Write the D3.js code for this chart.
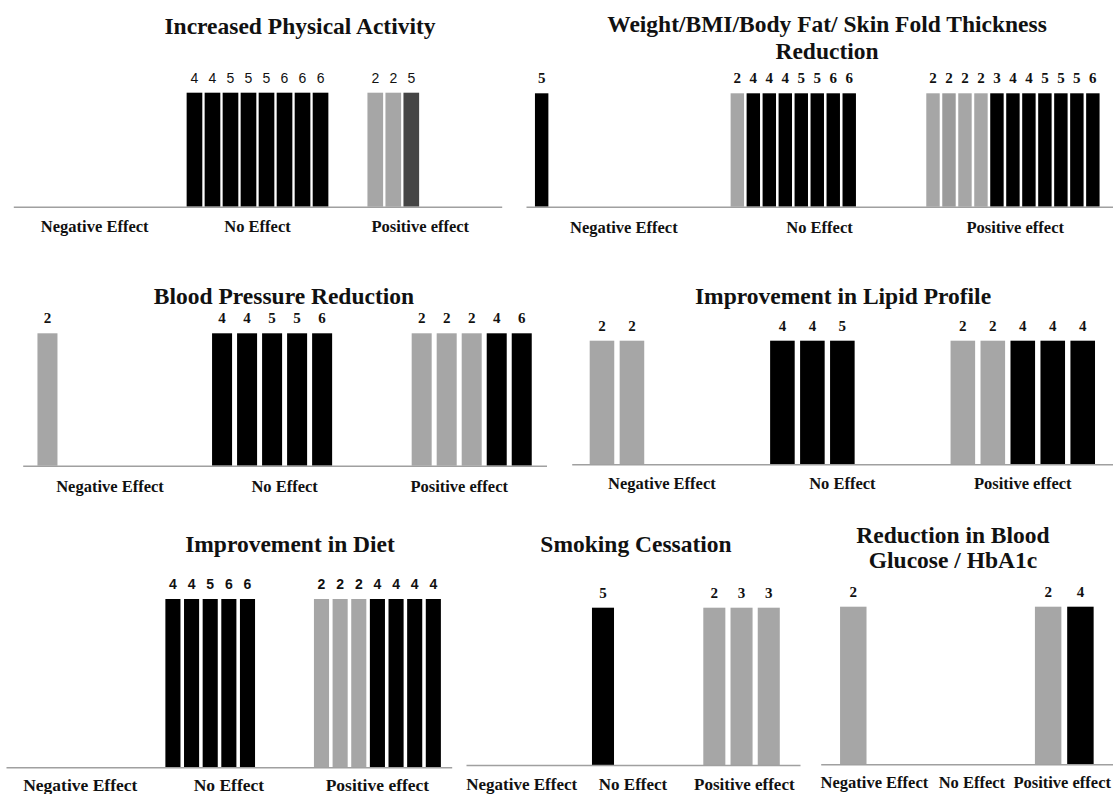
<!DOCTYPE html>
<html>
<head>
<meta charset="utf-8">
<script src="https://cdn.jsdelivr.net/npm/d3@7"></script>
<style>
  body { margin: 0; background: #fff; }
  svg { display: block; }
</style>
</head>
<body>
<div id="chart-area"></div>
<script>
// effect categories on every x axis
var categories = ["Negative Effect", "No Effect", "Positive effect"];

// panel titles (one entry per line)
var physTitle = ["Increased Physical Activity"];
var weightTitle = ["Weight/BMI/Body Fat/ Skin Fold Thickness", "Reduction"];
var bpTitle = ["Blood Pressure Reduction"];
var lipidTitle = ["Improvement in Lipid Profile"];
var dietTitle = ["Improvement in Diet"];
var smokeTitle = ["Smoking Cessation"];
var glucoseTitle = ["Reduction in Blood", "Glucose / HbA1c"];

// bar labels per category (each bar = one study, label = its score)
var physLabels = [[], [4, 4, 5, 5, 5, 6, 6, 6], [2, 2, 5]];
var weightLabels = [[5], [2, 4, 4, 4, 5, 5, 6, 6], [2, 2, 2, 2, 3, 4, 4, 5, 5, 5, 6]];
var bpLabels = [[2], [4, 4, 5, 5, 6], [2, 2, 2, 4, 6]];
var lipidLabels = [[2, 2], [4, 4, 5], [2, 2, 4, 4, 4]];
var dietLabels = [[], [4, 4, 5, 6, 6], [2, 2, 2, 4, 4, 4, 4]];
var smokeLabels = [[], [5], [2, 3, 3]];
var glucoseLabels = [[2], [], [2, 4]];

// study group of each bar (G, G2, D, K)
var physGroups = [[], ["K","K","K","K","K","K","K","K"], ["G","G","D"]];
var weightGroups = [["K"], ["G","K","K","K","K","K","K","K"], ["G","G2","G","G","K","K","K","K","K","K","K"]];
var bpGroups = [["G"], ["K","K","K","K","K"], ["G","G","G","K","K"]];
var lipidGroups = [["G","G"], ["K","K","K"], ["G","G","K","K","K"]];
var dietGroups = [[], ["K","K","K","K","K"], ["G","G","G","K","K","K","K"]];
var smokeGroups = [[], ["K"], ["G","G","G"]];
var glucoseGroups = [["G"], [], ["G","K"]];

// first series slot used in each category
var physStart = [0, 0, 1];
var bpStart = [0, 0, 1];

var color = d3.scaleOrdinal()
  .domain(["G", "G2", "D", "K"])
  .range(["#a6a6a6", "#9b9b9b", "#454545", "#000000"]);

var serif = "'Liberation Serif', 'Times New Roman', serif";
var sans = "'Liberation Sans', Arial, sans-serif";
var W = 1113, H = 794;

var panels = [
  {title: physTitle, labels: physLabels, groups: physGroups, start: physStart, slots: 8,
   x0: 13.3, x1: 501.7, axisY: 206.7, top: 92.7, pi: 0.13, po: 0.585, align: 0.5,
   titleX: 300, titleY: 33.5, lineH: 28, catY: 232.5, catSize: 16.5, catShift: 0,
   valFont: sans, valWeight: "normal", valSize: 14},
  {title: weightTitle, labels: weightLabels, groups: weightGroups, start: [0, 0, 0], slots: 11,
   x0: 526, x1: 1113, axisY: 206.7, top: 93.3, pi: 0.16, po: 0.7, align: 0.4,
   titleX: 827, titleY: 31.5, lineH: 27, catY: 233.5, catSize: 16.5, catShift: 0,
   valFont: serif, valWeight: "bold", valSize: 15},
  {title: bpTitle, labels: bpLabels, groups: bpGroups, start: bpStart, slots: 6,
   x0: 22.7, x1: 546.5, axisY: 465.7, top: 333.3, pi: 0.2, po: 0.59, align: 0.5,
   titleX: 284, titleY: 304, lineH: 28, catY: 492, catSize: 16.5, catShift: 0,
   valFont: serif, valWeight: "bold", valSize: 15},
  {title: lipidTitle, labels: lipidLabels, groups: lipidGroups, start: [0, 0, 0], slots: 5,
   x0: 571.7, x1: 1113, axisY: 464.3, top: 340.7, pi: 0.18, po: 0.6, align: 0.5,
   titleX: 843, titleY: 304, lineH: 28, catY: 489.5, catSize: 16.5, catShift: 0,
   valFont: serif, valWeight: "bold", valSize: 15},
  {title: dietTitle, labels: dietLabels, groups: dietGroups, start: [0, 0, 0], slots: 7,
   x0: 6, x1: 451.7, axisY: 767.3, top: 599, pi: 0.19, po: 0.58, align: 0.5,
   titleX: 290, titleY: 551.5, lineH: 28, catY: 791, catSize: 17.5, catShift: 0,
   valFont: sans, valWeight: "bold", valSize: 14},
  {title: smokeTitle, labels: smokeLabels, groups: smokeGroups, start: [0, 0, 0], slots: 3,
   x0: 466, x1: 800, axisY: 765, top: 607.7, pi: 0.19, po: 0.64, align: 0.42,
   titleX: 636, titleY: 551.5, lineH: 28, catY: 789.5, catSize: 17, catShift: 0,
   valFont: serif, valWeight: "bold", valSize: 15},
  {title: glucoseTitle, labels: glucoseLabels, groups: glucoseGroups, start: [0, 0, 0], slots: 2,
   x0: 820.7, x1: 1113, axisY: 764.3, top: 606.7, pi: 0.18, po: 0.6, align: 0.5,
   titleX: 953, titleY: 542.5, lineH: 25.5, catY: 788, catSize: 16.5, catShift: 5,
   valFont: serif, valWeight: "bold", valSize: 15}
];

var svg = d3.select("#chart-area").append("svg")
  .attr("width", W)
  .attr("height", H);

panels.forEach(function(p) {
  var g = svg.append("g");

  var x = d3.scaleBand().domain(categories).range([p.x0, p.x1]).padding(0);
  var xs = d3.scaleBand().domain(d3.range(p.slots)).range([0, x.bandwidth()])
    .paddingInner(p.pi).paddingOuter(p.po).align(p.align);
  // every bar counts one study
  var y = d3.scaleLinear().domain([0, 1]).range([p.axisY, p.top]);

  var bars = [];
  categories.forEach(function(c, ci) {
    p.labels[ci].forEach(function(v, i) {
      bars.push({cat: c, slot: p.start[ci] + i, label: v, group: p.groups[ci][i], count: 1});
    });
  });

  g.selectAll("rect").data(bars).enter().append("rect")
    .attr("x", function(d) { return x(d.cat) + xs(d.slot); })
    .attr("y", function(d) { return y(d.count); })
    .attr("width", xs.bandwidth())
    .attr("height", function(d) { return y(0) - y(d.count); })
    .attr("fill", function(d) { return color(d.group); });

  g.selectAll(".val").data(bars).enter().append("text")
    .attr("class", "val")
    .attr("x", function(d) { return x(d.cat) + xs(d.slot) + xs.bandwidth() / 2; })
    .attr("y", function(d) { return y(d.count) - 10; })
    .attr("text-anchor", "middle")
    .attr("font-family", p.valFont)
    .attr("font-weight", p.valWeight)
    .attr("font-size", p.valSize + "px")
    .attr("fill", "#111")
    .text(function(d) { return d.label; });

  var axis = d3.axisBottom(x).tickSize(0).tickSizeOuter(0);
  var ax = g.append("g")
    .attr("transform", "translate(0," + p.axisY + ")")
    .call(axis);
  ax.select(".domain").attr("stroke", "#a0a0a0").attr("stroke-width", 1.5);
  ax.selectAll("text")
    .attr("x", p.catShift)
    .attr("y", p.catY - p.axisY)
    .attr("dy", null)
    .attr("font-family", serif)
    .attr("font-weight", "bold")
    .attr("font-size", p.catSize + "px")
    .attr("fill", "#111");
  // keep labels inside the page
  ax.selectAll(".tick").each(function(c) {
    var txt = d3.select(this).select("text");
    var half = txt.node().getComputedTextLength() / 2;
    var cx = x(c) + x.bandwidth() / 2 + p.catShift;
    if (cx + half > W - 2) txt.attr("x", p.catShift - (cx + half - (W - 2)));
  });

  var t = g.append("text")
    .attr("x", p.titleX)
    .attr("y", p.titleY)
    .attr("text-anchor", "middle")
    .attr("font-family", serif)
    .attr("font-weight", "bold")
    .attr("font-size", "23.5px")
    .attr("fill", "#111");
  p.title.forEach(function(line, i) {
    t.append("tspan").attr("x", p.titleX).attr("y", p.titleY + i * p.lineH).text(line);
  });
});
</script>
</body>
</html>
